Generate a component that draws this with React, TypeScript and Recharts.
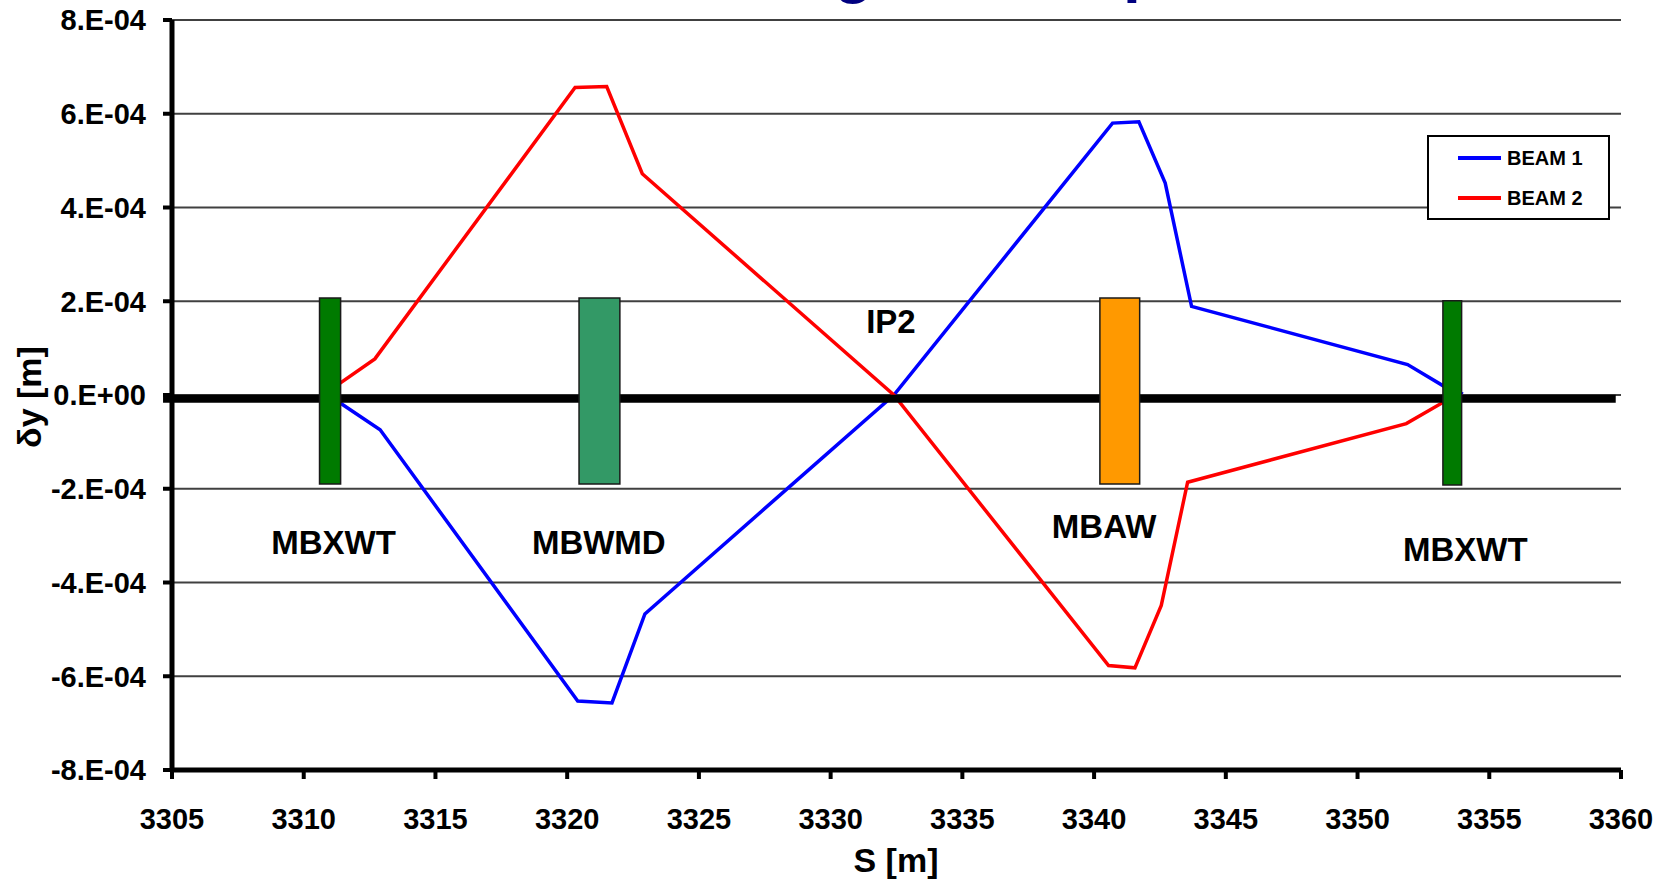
import React from "react";
import {
  LineChart,
  Line,
  XAxis,
  YAxis,
  CartesianGrid,
  ReferenceArea,
  ReferenceLine,
  ReferenceDot,
} from "recharts";

const FONT = '"Liberation Sans", Arial, sans-serif';

// axis ticks
const xTicks = [3305, 3310, 3315, 3320, 3325, 3330, 3335, 3340, 3345, 3350, 3355, 3360];
const yTicks = [-8e-4, -6e-4, -4e-4, -2e-4, 0, 2e-4, 4e-4, 6e-4, 8e-4];
const yTickLabels = ["-8.E-04", "-6.E-04", "-4.E-04", "-2.E-04", "0.E+00", "2.E-04", "4.E-04", "6.E-04", "8.E-04"];

// orbit of beam 1 (blue)
const beam1S = [3311.3, 3312.9, 3320.4, 3321.7, 3322.95, 3332.4, 3340.7, 3341.7, 3342.7, 3343.7, 3351.9, 3353.3, 3354.0];
const beam1Y = [-0.14e-4, -0.74e-4, -6.53e-4, -6.57e-4, -4.67e-4, 0, 5.8e-4, 5.83e-4, 4.52e-4, 1.89e-4, 0.65e-4, 0.18e-4, 0.02e-4];

// orbit of beam 2 (red)
const beam2S = [3311.3, 3312.7, 3320.3, 3321.5, 3322.85, 3332.4, 3340.55, 3341.55, 3342.55, 3343.55, 3351.85, 3353.3, 3354.0];
const beam2Y = [0.22e-4, 0.77e-4, 6.56e-4, 6.58e-4, 4.72e-4, 0, -5.77e-4, -5.82e-4, -4.49e-4, -1.86e-4, -0.61e-4, -0.14e-4, -0.02e-4];

const seriesNames = ["BEAM 1", "BEAM 2"];
const seriesColors = ["#0000FF", "#FF0000"];

// magnets drawn as boxes along s
const magnetNames = ["MBXWT", "MBWMD", "MBAW", "MBXWT"];
const magnetStart = [3310.6, 3320.45, 3340.22, 3353.24];
const magnetEnd = [3311.4, 3322.0, 3341.73, 3353.95];
const magnetTop = [2.07e-4, 2.07e-4, 2.07e-4, 2.01e-4];
const magnetBottom = [-1.9e-4, -1.9e-4, -1.9e-4, -1.92e-4];
const magnetColors = ["#007A00", "#339966", "#FF9900", "#007A00"];

// magnet name labels (data coordinates)
const magnetLabelS = [3311.13, 3321.2, 3340.38, 3354.09];
const magnetLabelY = [-3.15e-4, -3.15e-4, -2.81e-4, -3.29e-4];

const ipName = "IP2";
const ipLabelS = 3332.29;
const ipLabelY = 1.56e-4;

// beam axis (thick line)
const axisLineY = -0.08e-4;
const axisLineStart = 3304.66;
const axisLineEnd = 3359.8;

const beam1Data = beam1S.map((s, i) => ({ s, y: beam1Y[i] }));
const beam2Data = beam2S.map((s, i) => ({ s, y: beam2Y[i] }));
const beamData = [beam1Data, beam2Data];

const formatY = (v: number) => {
  const idx = yTicks.findIndex((t) => Math.abs(t - v) < 1e-9);
  return idx >= 0 ? yTickLabels[idx] : String(v);
};

const YTitle = () => (
  <text
    x={29}
    y={397}
    transform="rotate(-90 29 397)"
    textAnchor="middle"
    dominantBaseline="central"
    fontFamily={FONT}
    fontWeight="bold"
    fontSize={34}
    fill="#000"
  >
    δy [m]
  </text>
);

const XTitle = () => (
  <text x={896} y={872} textAnchor="middle" fontFamily={FONT} fontWeight="bold" fontSize={34} fill="#000">
    S [m]
  </text>
);

const NameLabel = ({ viewBox, value }: any) => {
  const cx = viewBox ? viewBox.x + viewBox.width / 2 : 0;
  const cy = viewBox ? viewBox.y + viewBox.height / 2 : 0;
  return (
    <text x={cx} y={cy} textAnchor="middle" dominantBaseline="central" fontFamily={FONT} fontWeight="bold" fontSize={33} fill="#000">
      {value}
    </text>
  );
};

export default function App() {
  return (
    <div style={{ position: "absolute", left: 0, top: 0, width: 1660, height: 882, background: "#fff" }}>
      <LineChart width={1660} height={882} margin={{ top: 20, right: 39, bottom: 0, left: 0 }}>
        <CartesianGrid vertical={false} stroke="#404040" strokeWidth={2} />
        <XAxis
          type="number"
          dataKey="s"
          domain={[3305, 3360]}
          ticks={xTicks}
          interval={0}
          allowDataOverflow
          height={112}
          tickSize={9}
          tickMargin={29}
          axisLine={{ stroke: "#000", strokeWidth: 5 }}
          tickLine={{ stroke: "#000", strokeWidth: 4 }}
          tick={{ fontSize: 29, fontWeight: "bold", fill: "#000", fontFamily: FONT }}
          label={<XTitle />}
        />
        <YAxis
          type="number"
          dataKey="y"
          domain={[-8e-4, 8e-4]}
          ticks={yTicks}
          interval={0}
          allowDataOverflow
          width={172}
          tickSize={9}
          tickMargin={17}
          tickFormatter={formatY}
          axisLine={{ stroke: "#000", strokeWidth: 5 }}
          tickLine={{ stroke: "#000", strokeWidth: 4 }}
          tick={{ fontSize: 29, fontWeight: "bold", fill: "#000", fontFamily: FONT }}
          label={<YTitle />}
        />
        {beamData.map((d, i) => (
          <Line
            key={seriesNames[i]}
            data={d}
            dataKey="y"
            name={seriesNames[i]}
            type="linear"
            stroke={seriesColors[i]}
            strokeWidth={3.5}
            dot={false}
            activeDot={false}
            isAnimationActive={false}
          />
        ))}
        <ReferenceLine
          segment={[
            { x: axisLineStart, y: axisLineY },
            { x: axisLineEnd, y: axisLineY },
          ]}
          stroke="#000"
          strokeWidth={8}
          ifOverflow="visible"
          zIndex={450}
        />
        {magnetNames.map((n, i) => (
          <ReferenceArea
            key={"box" + i}
            x1={magnetStart[i]}
            x2={magnetEnd[i]}
            y1={magnetBottom[i]}
            y2={magnetTop[i]}
            fill={magnetColors[i]}
            fillOpacity={1}
            stroke="#1a1a1a"
            strokeWidth={1.5}
            ifOverflow="visible"
            zIndex={500}
          />
        ))}
        {magnetNames.map((n, i) => (
          <ReferenceDot
            key={"lab" + i}
            x={magnetLabelS[i]}
            y={magnetLabelY[i]}
            r={0}
            fill="none"
            stroke="none"
            label={<NameLabel value={n} />}
          />
        ))}
        <ReferenceDot x={ipLabelS} y={ipLabelY} r={0} fill="none" stroke="none" label={<NameLabel value={ipName} />} />
      </LineChart>

      {/* legend */}
      <div
        style={{
          position: "absolute",
          left: 1427,
          top: 135,
          width: 179,
          height: 81,
          border: "2px solid #000",
          background: "#fff",
          fontFamily: FONT,
          fontWeight: "bold",
          fontSize: 20,
        }}
      >
        {seriesNames.map((n, i) => (
          <div key={n} style={{ position: "absolute", left: 29, top: 9 + i * 40, height: 24, display: "flex", alignItems: "center" }}>
            <div style={{ width: 43, height: 4, background: seriesColors[i], marginRight: 6 }} />
            <span>{n}</span>
          </div>
        ))}
      </div>

      {/* cut-off title remnants at the very top */}
      <svg width={1660} height={882} style={{ position: "absolute", left: 0, top: 0, pointerEvents: "none" }}>
        <text x={834} y={-9} fontFamily={FONT} fontWeight="bold" fontSize={64} fill="#000080">g</text>
        <text x={1123} y={-10} fontFamily={FONT} fontWeight="bold" fontSize={64} fill="#000080">p</text>
      </svg>
    </div>
  );
}
